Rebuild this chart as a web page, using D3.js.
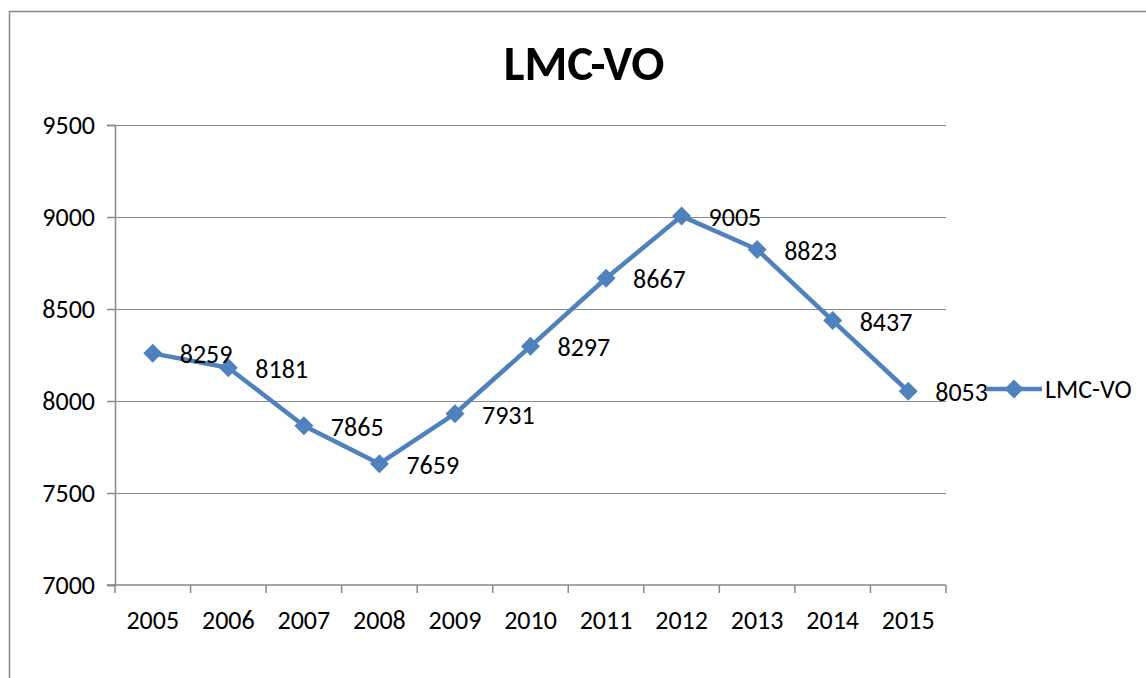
<!DOCTYPE html>
<html>
<head>
<meta charset="utf-8">
<script src="https://cdn.jsdelivr.net/npm/d3@7"></script>
<style>
  body { margin: 0; background: #fff; }
  svg { display: block; font-family: Carlito, Lato, "Open Sans", sans-serif; }
</style>
</head>
<body>
<svg id="chart" width="1146" height="678"></svg>
<script>
var years = ['2005', '2006', '2007', '2008', '2009', '2010', '2011', '2012', '2013', '2014', '2015'];
var values = [8259, 8181, 7865, 7659, 7931, 8297, 8667, 9005, 8823, 8437, 8053];
var yTicks = [7000, 7500, 8000, 8500, 9000, 9500];
var seriesName = 'LMC-VO';

var blue = '#4f81bd';
var gridColor = '#888888';
var fontSize = 26;

var svg = d3.select('#chart');

// outer chart border (runs off the right and bottom edge)
svg.append('path')
    .attr('d', 'M9.5,690V11.5H1160')
    .attr('fill', 'none')
    .attr('stroke', '#888')
    .attr('stroke-width', 1.5);

svg.append('text')
    .attr('x', 584).attr('y', 80)
    .attr('text-anchor', 'middle')
    .attr('font-size', 49)
    .attr('font-weight', 'bold')
    .text(seriesName);

var plotLeft = 115, plotRight = 946, plotTop = 125, plotBottom = 585;

var x = d3.scaleBand().domain(years).range([plotLeft, plotRight]);
var y = d3.scaleLinear().domain([7000, 9500]).range([plotBottom, plotTop]);

// gridlines
svg.append('g')
    .selectAll('line')
    .data(yTicks.slice(1))
    .join('line')
    .attr('x1', plotLeft).attr('x2', plotRight)
    .attr('y1', function(d) { return Math.round(y(d)) + 0.5; })
    .attr('y2', function(d) { return Math.round(y(d)) + 0.5; })
    .attr('stroke', gridColor)
    .attr('stroke-width', 1.2);

// y axis
var yAxis = svg.append('g')
    .attr('transform', 'translate(' + plotLeft + ',0)')
    .call(d3.axisLeft(y).tickValues(yTicks).tickSize(8).tickPadding(12).tickFormat(d3.format('d')));
yAxis.select('.domain').attr('stroke', gridColor).attr('stroke-width', 1.5);
yAxis.selectAll('.tick line').attr('stroke', gridColor).attr('stroke-width', 1.5);
yAxis.selectAll('text').attr('font-size', fontSize).attr('fill', '#000')
    .attr('font-family', 'Carlito, Lato, "Open Sans", sans-serif');

// x axis: ticks between categories
var xAxis = svg.append('g').attr('transform', 'translate(0,' + plotBottom + ')');
xAxis.append('line')
    .attr('x1', plotLeft - 8).attr('x2', plotRight)
    .attr('stroke', gridColor).attr('stroke-width', 1.5);
var edges = years.map(function(d) { return x(d); }).concat([plotRight]);
xAxis.selectAll('line.tk')
    .data(edges)
    .join('line')
    .attr('class', 'tk')
    .attr('x1', function(d) { return d; }).attr('x2', function(d) { return d; })
    .attr('y1', 0).attr('y2', 8)
    .attr('stroke', gridColor).attr('stroke-width', 1.5);
xAxis.selectAll('text')
    .data(years)
    .join('text')
    .attr('x', function(d) { return x(d) + x.bandwidth() / 2; })
    .attr('y', 44)
    .attr('text-anchor', 'middle')
    .attr('font-size', fontSize)
    .text(function(d) { return d; });

var cx = function(d, i) { return x(years[i]) + x.bandwidth() / 2; };

var line = d3.line()
    .x(function(d, i) { return cx(d, i); })
    .y(function(d) { return y(d); });

svg.append('path')
    .datum(values)
    .attr('d', line)
    .attr('fill', 'none')
    .attr('stroke', blue)
    .attr('stroke-width', 4.5)
    .attr('stroke-linejoin', 'round');

var diamond = d3.symbol().type(d3.symbolDiamond2).size(230);

svg.append('g')
    .selectAll('path')
    .data(values)
    .join('path')
    .attr('d', diamond)
    .attr('transform', function(d, i) { return 'translate(' + cx(d, i) + ',' + y(d) + ')'; })
    .attr('fill', blue);

svg.append('g')
    .selectAll('text')
    .data(values)
    .join('text')
    .attr('x', function(d, i) { return cx(d, i) + 27; })
    .attr('y', function(d) { return y(d) + 10; })
    .attr('font-size', fontSize)
    .text(function(d) { return d; });

// legend
var lg = svg.append('g').attr('transform', 'translate(986,389)');
lg.append('line')
    .attr('x1', 0).attr('x2', 56)
    .attr('stroke', blue).attr('stroke-width', 4.5);
lg.append('path')
    .attr('d', diamond)
    .attr('transform', 'translate(28,0)')
    .attr('fill', blue);
lg.append('text')
    .attr('x', 59).attr('y', 9)
    .attr('font-size', fontSize)
    .text(seriesName);
</script>
</body>
</html>
